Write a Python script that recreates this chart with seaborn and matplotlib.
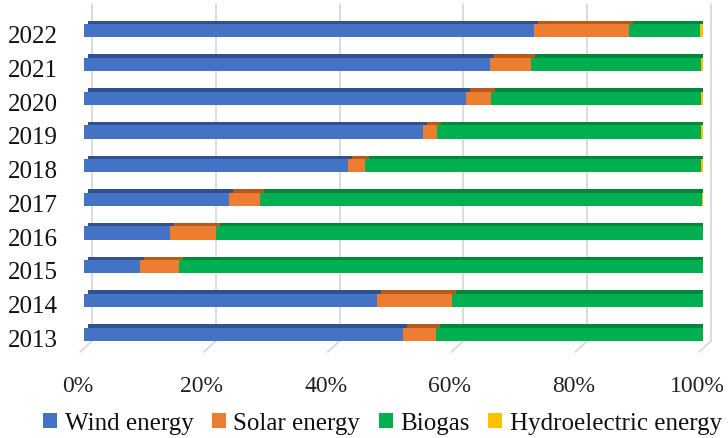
import matplotlib
matplotlib.use("Agg")
import matplotlib.pyplot as plt
from matplotlib.patches import Patch
from matplotlib.transforms import offset_copy, ScaledTranslation
import seaborn as sns

# Share of renewable electricity by source, per year (percent)
years = ["2022", "2021", "2020", "2019", "2018", "2017", "2016", "2015", "2014", "2013"]
wind = [72.7, 65.6, 61.7, 54.8, 42.6, 23.4, 13.9, 9.0, 47.3, 51.5]
solar = [15.3, 6.6, 4.1, 2.2, 2.8, 5.0, 7.4, 6.3, 12.1, 5.3]
biogas = [11.5, 27.5, 33.8, 42.6, 54.2, 71.4, 78.7, 84.7, 40.6, 43.2]
hydro = [0.5, 0.3, 0.4, 0.4, 0.4, 0.2, 0.0, 0.0, 0.0, 0.0]

series_names = ["Wind energy", "Solar energy", "Biogas", "Hydroelectric energy"]
series_values = [wind, solar, biogas, hydro]
front_colors = ["#4472C4", "#ED7D31", "#00B050", "#FFC000"]
side_colors = ["#2F528F", "#B85A1B", "#00873C", "#A68000"]
x_ticks = [0, 20, 40, 60, 80, 100]

sns.set_theme(style="white")
plt.rcParams["font.family"] = ["Liberation Serif", "DejaVu Serif"]

W, H = 728, 439
fig = plt.figure(figsize=(W / 100, H / 100), dpi=100)
ax_left, ax_right, ax_top, ax_bottom = 84, 703, 15, 352
ax = fig.add_axes([ax_left / W, 1 - ax_bottom / H,
                   (ax_right - ax_left) / W, (ax_bottom - ax_top) / H])

# running totals so each stacked segment is drawn as a longer bar underneath
cumulative = []
running = [0.0] * len(years)
for vals in series_values:
    running = [r + v for r, v in zip(running, vals)]
    cumulative.append(list(running))

bar_w = 0.39
depth = offset_copy(ax.transData, fig=fig, x=4, y=3.5, units="dots")

# depth faces (top and right side), shifted up-right behind the front faces
for k in range(len(series_values) - 1, -1, -1):
    n0 = len(ax.patches)
    sns.barplot(x=cumulative[k], y=years, order=years, orient="h",
                color=side_colors[k], saturation=1, width=bar_w,
                linewidth=0, ax=ax, zorder=2)
    for p in ax.patches[n0:]:
        p.set_transform(depth)

# front faces
for k in range(len(series_values) - 1, -1, -1):
    sns.barplot(x=cumulative[k], y=years, order=years, orient="h",
                color=front_colors[k], saturation=1, width=bar_w,
                linewidth=0, ax=ax, zorder=3)

ax.set_xlim(0, 100)
ax.set_ylim(len(years) - 0.5, -0.5)

# back-wall gridlines with their floor edges
px_to_data = 100 / (ax_right - ax_left)
ax_h = ax_bottom - ax_top
g_lo, g_hi, g_floor = 10 / ax_h, 1 + 10 / ax_h, -1 / ax_h
xt = ax.get_xaxis_transform()
for v in x_ticks:
    gx = v + 8 * px_to_data
    ax.plot([gx, gx], [g_lo, g_hi], transform=xt, color="#D9D9D9",
            lw=1.3, zorder=1, clip_on=False)
    ax.plot([gx, v - 4 * px_to_data], [g_lo, g_floor], transform=xt,
            color="#D9D9D9", lw=1.3, zorder=1, clip_on=False)

ax.set_xticks(x_ticks)
ax.set_xticklabels([f"{t}%" for t in x_ticks])
ax.tick_params(axis="x", length=0, pad=17, labelsize=17, colors="#222222")
ax.tick_params(axis="y", length=0, pad=19, labelsize=18, colors="#111111")
for lab in ax.get_xticklabels():
    lab.set_transform(lab.get_transform() + ScaledTranslation(-6 / 100, 0, fig.dpi_scale_trans))
for lab in ax.get_yticklabels():
    lab.set_transform(lab.get_transform() + ScaledTranslation(0, -3 / 100, fig.dpi_scale_trans))
ax.set_xlabel("")
ax.set_ylabel("")
for s in ax.spines.values():
    s.set_visible(False)
ax.grid(False)

handles = [Patch(facecolor=c, edgecolor="none", label=n)
           for c, n in zip(front_colors, series_names)]
fig.legend(handles=handles, loc="center", bbox_to_anchor=(382.5 / W, 1 - 424 / H),
           ncol=4, frameon=False, fontsize=18, handlelength=0.55,
           handleheight=0.55, handletextpad=0.3, columnspacing=0.75,
           borderpad=0, labelcolor="#111111")

fig.savefig("out.png", dpi=100)
